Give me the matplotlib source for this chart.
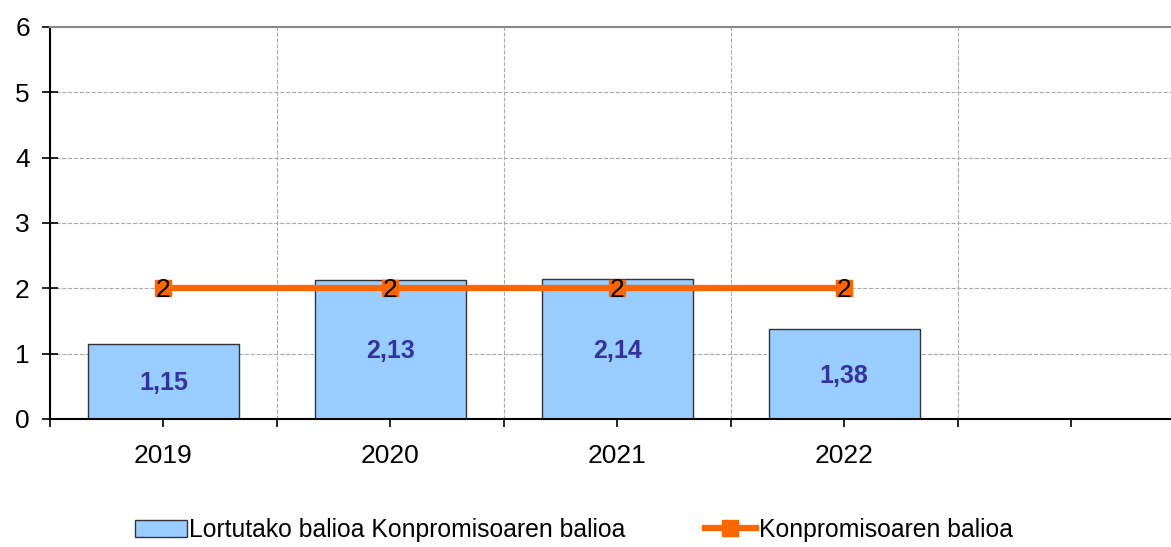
import matplotlib
matplotlib.use('Agg')
import matplotlib.pyplot as plt
from matplotlib.ticker import FixedLocator

plt.rcParams['font.family'] = ['Liberation Sans', 'DejaVu Sans']

# data
years = ['2019', '2020', '2021', '2022', '']
lortutako = [1.15, 2.13, 2.14, 1.38]
lortutako_lbl = ['1,15', '2,13', '2,14', '1,38']
konpromiso = [2, 2, 2, 2]
konpromiso_lbl = ['2', '2', '2', '2']

fig = plt.figure(figsize=(11.71, 5.47), dpi=100)
ax = fig.add_axes([50 / 1171, 1 - 419 / 547, 1 - 50 / 1171, (419 - 27) / 547])

x = list(range(len(lortutako)))
bars = ax.bar(x, lortutako, width=0.665, color='#99CCFF', edgecolor='#333333',
              linewidth=1, zorder=2, label='Lortutako balioa Konpromisoaren balioa')
for xi, v, t in zip(x, lortutako, lortutako_lbl):
    ax.text(xi, v / 2 - 0.03, t, ha='center', va='center', fontsize=18, fontweight='bold',
            color='#333399', zorder=4)

line, = ax.plot(x, konpromiso, color='#FF6600', linewidth=4.5, marker='s', markersize=11,
                markeredgecolor='#FF6600', zorder=3, label='Konpromisoaren balioa')
for xi, v, t in zip(x, konpromiso, konpromiso_lbl):
    ax.text(xi, v - 0.02, t, ha='center', va='center', fontsize=19, color='black', zorder=5)

ax.set_xlim(-0.5, 4.44)
ax.set_ylim(0, 6)
ax.set_yticks(range(0, 7))
ax.set_xticks(range(len(years)))
ax.set_xticklabels(years, fontsize=19)
ax.xaxis.set_minor_locator(FixedLocator([-0.5, 0.5, 1.5, 2.5, 3.5, 4.5]))
ax.tick_params(axis='y', direction='inout', length=11, width=1.2, labelsize=19, pad=9)
ax.tick_params(axis='x', which='both', direction='out', length=6, width=1.2, pad=12)

ax.grid(axis='y', which='major', color='#AAAAAA', linestyle='--', linewidth=0.8, zorder=0)
ax.grid(axis='x', which='minor', color='#AAAAAA', linestyle='--', linewidth=0.8, zorder=0)
ax.set_axisbelow(True)

ax.spines['right'].set_visible(False)
ax.spines['top'].set_color('#888888')
ax.spines['top'].set_linewidth(1.5)
ax.spines['left'].set_linewidth(1.5)
ax.spines['bottom'].set_linewidth(1.5)

fig.legend(handles=[bars, line], loc='lower center', bbox_to_anchor=(0.49, -0.02),
           ncol=2, frameon=False, fontsize=17.8, handlelength=2.1, handletextpad=0.1,
           columnspacing=3.2, borderpad=0.15)

plt.savefig('out.png', dpi=100)
